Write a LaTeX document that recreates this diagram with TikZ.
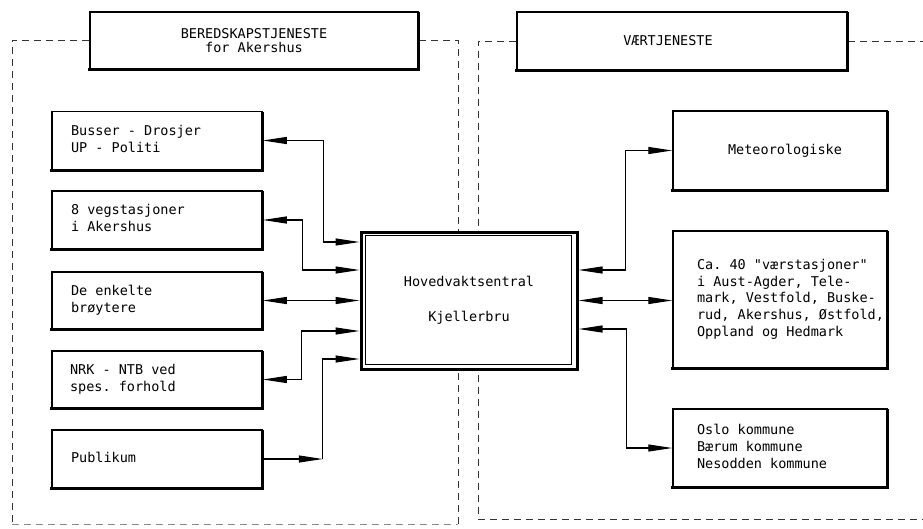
\documentclass[tikz,border=0pt]{standalone}
\usepackage{fontspec}
\setmonofont{DejaVu Sans Mono}
\usetikzlibrary{arrows.meta}
\newcommand\padtext[3]{\makebox[#1][l]{\hspace*{#2}\begin{tabular}{@{}l@{}}#3\end{tabular}}}
\tikzset{
  >={Triangle[length=24pt,width=7pt]},
  txt/.style={font=\ttfamily\fontsize{13.5}{16.7}\selectfont},
  box/.style={txt, draw, line width=1.5pt, fill=white, inner sep=0pt},
  lbox/.style={box, minimum width=210pt, minimum height=58pt},
  rbox/.style={box, minimum width=214pt},
  tbox/.style={box, minimum height=57pt, align=center},
  conn/.style={line width=1.1pt},
  frame/.style={line width=0.9pt, black!80, dash pattern=on 7pt off 5pt},
  heavy/.style={line width=2.8pt},
}
\begin{document}
\begin{tikzpicture}[x=1pt,y=-1pt]
\useasboundingbox[fill=white] (0,0) rectangle (923,528);

% dashed frames
\coordinate (LFtl) at (12,40.5);
\coordinate (LFbl) at (12,524);
\coordinate (LFbr) at (458,524);
\coordinate (RFbl) at (478,519);
\coordinate (RFbr) at (923,519);
\coordinate (RFtr) at (923,41);

% title boxes
\node[tbox, minimum width=328pt] (ber) at (254,40.5) {BEREDSKAPSTJENESTE\\[-2pt]for Akershus};
\node[tbox, minimum width=330pt, minimum height=58pt] (vaer) at (682,41) {VÆRTJENESTE\hspace*{28pt}};

\draw[frame] (ber.west) -| (LFbl);
\draw[frame, black!45] (LFbl) -- (LFbr);
\draw[frame] (LFbr) |- (ber.east);
\draw[frame] (vaer.west) -| (RFbl) -- (RFbr);
\draw[frame] (vaer.east) -- (vaer.east -| RFtr);

% left boxes
\node[lbox] (b1) at (157,140.5) {\padtext{210pt}{19pt}{Busser - Drosjer\\UP - Politi}};
\node[lbox] (b2) at (157,220) {\padtext{210pt}{19pt}{8 vegstasjoner\\i Akershus}};
\node[lbox, minimum height=57pt] (b3) at (157,300.5) {\padtext{210pt}{19pt}{De enkelte\\brøytere}};
\node[lbox, minimum height=57pt] (b4) at (157,379.5) {\padtext{210pt}{18pt}{NRK - NTB ved\\spes. forhold}};
\node[lbox] (b5) at (157,459) {\padtext{210pt}{19pt}{Publikum}};

% right boxes
\node[rbox, minimum height=79pt] (met) at (780,150.5) {\hspace*{10pt}Meteorologiske};
\node[rbox, minimum height=137pt] (ca) at (780,299.5) {\padtext{214pt}{24pt}{Ca. 40 "værstasjoner"\\i Aust-Agder, Tele-\\mark, Vestfold, Buske-\\rud, Akershus, Østfold,\\Oppland og Hedmark}};
\node[rbox, minimum height=78pt] (oslo) at (780,448) {\padtext{214pt}{24pt}{Oslo kommune\\Bærum kommune\\Nesodden kommune}};

% centre box
\node[box, line width=3pt, minimum width=216pt, minimum height=137pt, align=center] (hv) at (469,300.5) {Hovedvaktsentral\\[18pt]Kjellerbru};
\draw[line width=0.9pt] ([xshift=6pt,yshift=-5pt]hv.north west) rectangle ([xshift=-7pt,yshift=6pt]hv.south east);

% heavier bottom and right edges
\foreach \n in {ber,vaer,b1,b2,b3,b4,b5,met,ca,oslo}{
  \draw[heavy] ([xshift=-1pt]\n.south west) -- (\n.south east) -- ([yshift=-1pt]\n.north east);
}

% left connectors
\draw[conn,<->] (b1.east) -- ++(61,0) |- ([yshift=58.5pt]hv.west);
\draw[conn,<->] (b2.east) -- ++(40,0) |- ([yshift=30.5pt]hv.west);
\draw[conn,<->] (b3.east) -- (b3.east -| hv.west);
\draw[conn,<->] (b4.east) -- ++(39,0) |- ([yshift=-30.5pt]hv.west);
\draw[conn,->] (b5.east) -- ++(60,0) coordinate (p5);
\draw[conn,->] (p5) |- ([yshift=-58.5pt]hv.west);

% right connectors
\draw[conn,<->] ([yshift=30.5pt]hv.east) -- ++(47,0) |- (met.west);
\draw[conn,<->] (hv.east) -- (hv.east -| ca.west);
\draw[conn,<->] ([yshift=-28.5pt]hv.east) -- ++(48,0) |- (oslo.west);
\end{tikzpicture}
\end{document}
